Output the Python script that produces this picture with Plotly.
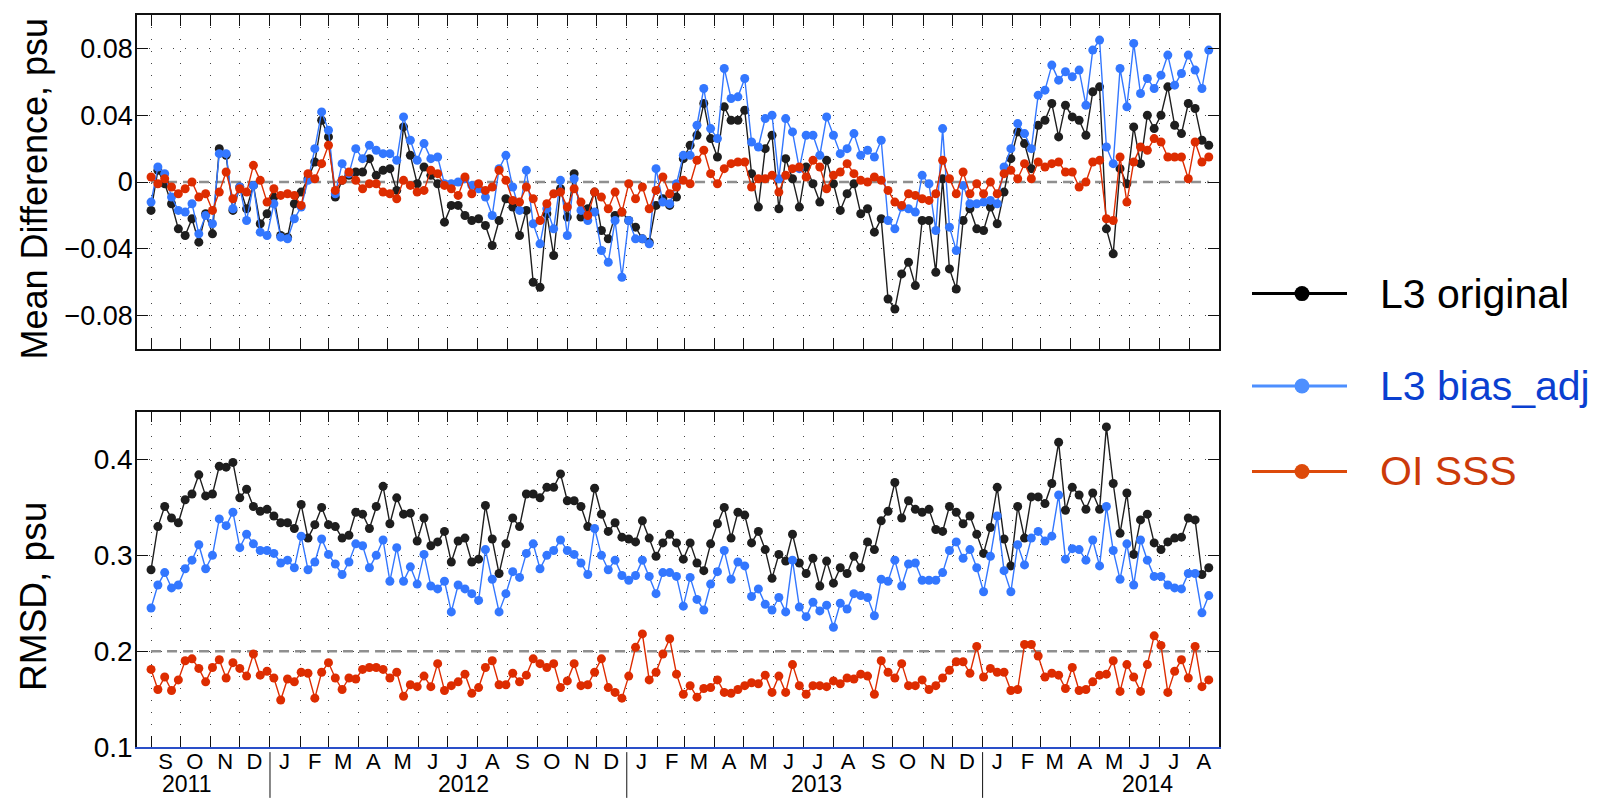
import pandas as pd
import plotly.graph_objects as go

# ---------------- data ----------------
N_WEEKS = 156
START_DATE = "2011-09-01"

md_l3_original = [
    -0.017, 0.007, -0.001, -0.013, -0.028, -0.032, -0.022, -0.036, -0.019, -0.031,
    0.020, 0.016, -0.017, -0.003, -0.016, -0.002, -0.025, -0.019, -0.009, -0.032,
    -0.033, -0.013, -0.006, 0.002, 0.012, 0.037, 0.027, -0.009, 0.001, 0.004,
    0.006, 0.006, 0.014, 0.004, 0.007, 0.008, -0.005,
    0.033, 0.016, -0.001, 0.009, 0.004, -0.001, -0.024, -0.014, -0.014, -0.020,
    -0.023, -0.022, -0.026, -0.038, -0.023, -0.010, -0.015, -0.032, -0.017, -0.060,
    -0.063, -0.019, -0.044, -0.004, -0.021, 0.005, -0.021, -0.016, -0.006, -0.029,
    -0.034, -0.020, -0.018, -0.023, -0.027, -0.034, -0.036, -0.014, -0.010,
    -0.014, -0.009, 0.014, 0.022, 0.028, 0.047, 0.026, 0.015, 0.045, 0.037,
    0.037, 0.043, 0.005, -0.015, 0.020, 0.028, -0.016, 0.014, 0.002, -0.015,
    0.009, -0.001, -0.012, 0.013, -0.001, -0.017, -0.007, -0.001, -0.019, -0.016,
    -0.030, -0.022, -0.070, -0.076, -0.055, -0.048, -0.062, -0.023, -0.023, -0.054,
    0.002, -0.052, -0.064,
    -0.023, -0.016, -0.028, -0.029, -0.015, -0.025, -0.006, 0.014, 0.030, 0.023,
    0.008, 0.034, 0.037, 0.047, 0.027, 0.046, 0.039, 0.037, 0.028, 0.054,
    0.057, -0.028, -0.043, 0.008, -0.001, 0.033, 0.011, 0.040, 0.032, 0.040,
    0.057, 0.034, 0.029, 0.047, 0.044, 0.025, 0.022,
]

md_l3_bias_adj = [
    -0.012, 0.009, 0.005, -0.009, -0.017, -0.018, -0.013, -0.031, -0.020, -0.025,
    0.017, 0.017, -0.016, -0.003, -0.023, -0.002, -0.030, -0.032, -0.013, -0.033,
    -0.034, -0.022, -0.015, 0.001, 0.020, 0.042, 0.031, -0.007, 0.011, 0.005,
    0.020, 0.014, 0.022, 0.019, 0.017, 0.017, 0.013,
    0.039, 0.025, 0.013, 0.023, 0.014, 0.015, -0.001, -0.001, 0.000, 0.002,
    -0.002, -0.004, -0.009, -0.020, 0.008, 0.016, -0.003, -0.017, 0.007, -0.025,
    -0.037, -0.016, -0.028, 0.001, -0.032, 0.002, -0.017, -0.023, -0.018, -0.041,
    -0.048, -0.023, -0.057, -0.023, -0.034, -0.034, -0.037, 0.008, -0.012,
    -0.013, -0.001, 0.016, 0.016, 0.034, 0.056, 0.032, 0.026, 0.068, 0.050,
    0.051, 0.062, 0.024, 0.021, 0.038, 0.040, 0.002, 0.038, 0.030, 0.008,
    0.028, 0.028, 0.016, 0.039, 0.028, 0.017, 0.020, 0.029, 0.016, 0.019,
    0.015, 0.025, -0.023, -0.028, -0.015, -0.016, -0.018, 0.004, -0.001, -0.029,
    0.032, -0.027, -0.041,
    -0.002, -0.013, -0.013, -0.012, -0.011, -0.013, 0.009, 0.020, 0.035, 0.029,
    0.020, 0.052, 0.055, 0.070, 0.061, 0.066, 0.063, 0.067, 0.046, 0.079,
    0.085, 0.021, 0.011, 0.068, 0.045, 0.083, 0.053, 0.062, 0.056, 0.064,
    0.076, 0.058, 0.065, 0.076, 0.067, 0.056, 0.079,
]

md_oi_sss = [
    0.003, -0.001, 0.002, -0.003, -0.007, -0.004, 0.000, -0.009, -0.007, -0.017,
    -0.006, 0.006, -0.010, -0.004, -0.006, 0.010, 0.001, -0.012, -0.004, -0.008,
    -0.007, -0.008, -0.014, 0.005, 0.002, 0.011, 0.022, -0.005, 0.001, 0.006,
    0.001, -0.004, -0.001, -0.001, -0.006, -0.007, -0.010,
    0.001, -0.002, -0.006, -0.005, 0.007, 0.005, -0.002, -0.004, -0.008, 0.003,
    -0.007, -0.001, -0.005, -0.003, 0.007, 0.001, -0.011, -0.012, -0.003, -0.010,
    -0.023, -0.013, -0.007, -0.006, -0.015, -0.004, -0.012, -0.020, -0.006, -0.009,
    -0.016, -0.006, -0.018, -0.001, -0.010, -0.003, -0.016, -0.005, 0.003,
    -0.007, -0.003, 0.001, -0.001, 0.013, 0.019, 0.005, -0.001, 0.008, 0.011,
    0.012, 0.012, -0.003, 0.002, 0.002, 0.004, -0.006, 0.004, 0.008, 0.009,
    0.003, 0.013, 0.009, -0.004, 0.004, 0.006, 0.011, 0.005, 0.001, 0.000,
    0.003, 0.001, -0.005, -0.012, -0.014, -0.007, -0.008, -0.010, -0.011, -0.007,
    0.013, 0.002, -0.007,
    0.006, -0.007, -0.001, -0.007, 0.000, -0.007, 0.005, 0.007, 0.002, 0.011,
    0.002, 0.012, 0.009, 0.011, 0.012, 0.006, 0.006, -0.003, 0.000, 0.012,
    0.013, -0.022, -0.023, 0.015, -0.012, 0.012, 0.021, 0.019, 0.026, 0.024,
    0.015, 0.015, 0.015, 0.002, 0.024, 0.012, 0.015,
]

rmsd_l3_original = [
    0.285, 0.330, 0.351, 0.339, 0.334, 0.358, 0.364, 0.384, 0.362, 0.364,
    0.393, 0.392, 0.397, 0.360, 0.369, 0.351, 0.346, 0.348, 0.341, 0.334,
    0.334, 0.328, 0.353, 0.318, 0.332, 0.350, 0.332, 0.330, 0.318, 0.321,
    0.345, 0.343, 0.328, 0.351, 0.372, 0.333, 0.360, 0.343, 0.344, 0.315,
    0.339, 0.310, 0.314, 0.325, 0.293, 0.315, 0.318, 0.293, 0.296, 0.352,
    0.317, 0.281, 0.312, 0.339, 0.330, 0.364, 0.364, 0.360, 0.371, 0.371,
    0.385, 0.357, 0.357, 0.351, 0.330, 0.370, 0.343, 0.325, 0.334, 0.319,
    0.317, 0.314, 0.336, 0.318, 0.299, 0.313, 0.322, 0.313, 0.296, 0.313,
    0.292, 0.284, 0.312, 0.333, 0.350, 0.318, 0.345, 0.342, 0.313, 0.325,
    0.306, 0.276, 0.301, 0.294, 0.322, 0.292, 0.281, 0.297, 0.268, 0.294,
    0.271, 0.287, 0.281, 0.299, 0.287, 0.314, 0.306, 0.336, 0.346, 0.376,
    0.339, 0.357, 0.348, 0.345, 0.348, 0.327, 0.325, 0.351, 0.345,
    0.333, 0.341, 0.322, 0.302, 0.329, 0.371, 0.317, 0.289, 0.351, 0.318,
    0.361, 0.361, 0.354, 0.375, 0.418, 0.347, 0.371, 0.363, 0.348, 0.365,
    0.348, 0.434, 0.375, 0.323, 0.365, 0.301, 0.337, 0.343, 0.313, 0.306,
    0.314, 0.318, 0.319, 0.339, 0.337, 0.280, 0.287,
]

rmsd_l3_bias_adj = [
    0.245, 0.269, 0.282, 0.266, 0.269, 0.286, 0.295, 0.311, 0.286, 0.300,
    0.338, 0.331, 0.345, 0.308, 0.322, 0.312, 0.305, 0.305, 0.302, 0.292,
    0.295, 0.287, 0.320, 0.285, 0.293, 0.317, 0.301, 0.291, 0.280, 0.293,
    0.312, 0.310, 0.287, 0.300, 0.316, 0.273, 0.308, 0.273, 0.288, 0.270,
    0.301, 0.268, 0.265, 0.273, 0.241, 0.269, 0.265, 0.260, 0.253, 0.306,
    0.275, 0.241, 0.260, 0.283, 0.277, 0.302, 0.312, 0.286, 0.300, 0.305,
    0.316, 0.305, 0.301, 0.292, 0.280, 0.328, 0.300, 0.285, 0.295, 0.279,
    0.274, 0.279, 0.295, 0.278, 0.260, 0.282, 0.282, 0.278, 0.247, 0.277,
    0.254, 0.243, 0.270, 0.283, 0.305, 0.275, 0.293, 0.289, 0.257, 0.265,
    0.249, 0.243, 0.256, 0.241, 0.295, 0.246, 0.236, 0.251, 0.242, 0.248,
    0.225, 0.250, 0.244, 0.260, 0.258, 0.256, 0.237, 0.275, 0.273, 0.295,
    0.268, 0.291, 0.292, 0.274, 0.274, 0.274, 0.282, 0.305, 0.314,
    0.297, 0.306, 0.287, 0.262, 0.299, 0.341, 0.284, 0.262, 0.311, 0.290,
    0.318, 0.325, 0.315, 0.320, 0.363, 0.296, 0.307, 0.306, 0.295, 0.316,
    0.289, 0.351, 0.305, 0.275, 0.312, 0.269, 0.316, 0.295, 0.278, 0.278,
    0.269, 0.266, 0.265, 0.281, 0.281, 0.240, 0.258,
]

rmsd_oi_sss = [
    0.181, 0.160, 0.173, 0.159, 0.170, 0.190, 0.192, 0.182, 0.168, 0.183,
    0.191, 0.172, 0.188, 0.182, 0.174, 0.197, 0.175, 0.179, 0.172, 0.149,
    0.171, 0.168, 0.178, 0.177, 0.151, 0.178, 0.188, 0.172, 0.160, 0.172,
    0.171, 0.181, 0.183, 0.183, 0.181, 0.172, 0.178, 0.153, 0.165, 0.163,
    0.174, 0.163, 0.187, 0.159, 0.164, 0.168, 0.176, 0.156, 0.162, 0.183,
    0.190, 0.165, 0.165, 0.177, 0.168, 0.175, 0.192, 0.187, 0.183, 0.187,
    0.162, 0.169, 0.187, 0.164, 0.165, 0.178, 0.192, 0.162, 0.157, 0.151,
    0.174, 0.204, 0.218, 0.170, 0.178, 0.197, 0.213, 0.176, 0.155, 0.164,
    0.152, 0.161, 0.162, 0.170, 0.157, 0.156, 0.160, 0.164, 0.167, 0.166,
    0.175, 0.157, 0.174, 0.157, 0.186, 0.164, 0.155, 0.164, 0.164, 0.163,
    0.169, 0.166, 0.172, 0.171, 0.176, 0.174, 0.155, 0.190, 0.178, 0.172,
    0.187, 0.164, 0.164, 0.170, 0.160, 0.164, 0.172, 0.180, 0.189,
    0.189, 0.177, 0.205, 0.173, 0.182, 0.178, 0.178, 0.159, 0.160, 0.207,
    0.207, 0.195, 0.173, 0.177, 0.175, 0.161, 0.183, 0.159, 0.160, 0.168,
    0.175, 0.176, 0.190, 0.158, 0.186, 0.173, 0.158, 0.186, 0.216, 0.206,
    0.157, 0.179, 0.191, 0.172, 0.205, 0.163, 0.170,
]

series_names = ["L3 original", "L3 bias_adj", "OI SSS"]
month_letters = ["S", "O", "N", "D", "J", "F", "M", "A", "M", "J", "J", "A",
                 "S", "O", "N", "D", "J", "F", "M", "A", "M", "J", "J", "A",
                 "S", "O", "N", "D", "J", "F", "M", "A", "M", "J", "J", "A"]
year_labels = ["2011", "2012", "2013", "2014"]
md_ticks = [-0.08, -0.04, 0, 0.04, 0.08]
md_ticktext = ["\u22120.08", "\u22120.04", "0", "0.04", "0.08"]
rmsd_ticks = [0.1, 0.2, 0.3, 0.4]
md_reference = 0.0
rmsd_reference = 0.2

# ---------------- styling / layout constants ----------------
FONT = "Liberation Sans, Arial, Helvetica, sans-serif"
LINE_COLORS = ["#1e1e1e", "#3377ff", "#dd2c00"]
LEGEND_LINE_COLORS = ["#000000", "#4d8fff", "#dd4a0a"]
LEGEND_TEXT_COLORS = ["#000000", "#0a3fd0", "#cc3a0a"]
X_RANGE = ["2011-08-17 14:00", "2014-08-31 12:00"]
YEAR_LABEL_DATES = ["2011-10-07", "2012-07-17", "2013-07-15", "2014-06-19"]
YEAR_BREAKS = ["2012-01-01", "2013-01-01", "2014-01-01"]
GRID_DASH = "1px,11px"
GRID_COLOR = "#444444"

dates = pd.date_range(START_DATE, periods=N_WEEKS, freq="7D")
month_starts = pd.date_range("2011-09-01", "2014-08-01", freq="MS")
month_mids = month_starts + pd.Timedelta(days=15)

fig = go.Figure()

md_series = [md_l3_original, md_l3_bias_adj, md_oi_sss]
rmsd_series = [rmsd_l3_original, rmsd_l3_bias_adj, rmsd_oi_sss]

for name, vals, col in zip(series_names, md_series, LINE_COLORS):
    fig.add_trace(go.Scatter(x=dates, y=vals, mode="lines+markers", name=name,
                             line=dict(color=col, width=1.4),
                             marker=dict(color=col, size=9),
                             xaxis="x", yaxis="y", showlegend=False))
for name, vals, col in zip(series_names, rmsd_series, LINE_COLORS):
    fig.add_trace(go.Scatter(x=dates, y=vals, mode="lines+markers", name=name,
                             line=dict(color=col, width=1.4),
                             marker=dict(color=col, size=9),
                             xaxis="x2", yaxis="y2", showlegend=False))
# carrier trace for the month-letter axis
fig.add_trace(go.Scatter(x=month_mids, y=[None] * len(month_mids), mode="markers",
                         xaxis="x3", yaxis="y2", showlegend=False, hoverinfo="skip"))

time_axis = dict(
    type="date", range=X_RANGE,
    tickmode="linear", tick0="2011-09-01", dtick="M1",
    ticks="inside", ticklen=11, tickwidth=1.2, tickcolor="#111111",
    showticklabels=False, mirror="ticks", showline=True,
    linecolor="#111111", linewidth=1.5,
    showgrid=True, gridcolor=GRID_COLOR, griddash=GRID_DASH, gridwidth=1,
    zeroline=False,
)

value_axis = dict(
    ticks="inside", ticklen=11, tickwidth=1.2, tickcolor="#111111",
    mirror="ticks", showline=True, linecolor="#111111", linewidth=1.5,
    showgrid=True, gridcolor=GRID_COLOR, griddash=GRID_DASH,
    zeroline=False, ticklabelstandoff=-3,
)

# the page body adds an 8px margin, so the figure is 1594x790 and all
# positions are measured 8px up/left of the screenshot
fig.update_layout(
    width=1594, height=790,
    margin=dict(l=129, r=383, t=5, b=51),
    paper_bgcolor="white", plot_bgcolor="white",
    font=dict(family=FONT, color="#000000"),
    xaxis=dict(time_axis, domain=[0, 1], anchor="y"),
    xaxis2=dict(time_axis, domain=[0, 1], anchor="y2"),
    xaxis3=dict(type="date", range=X_RANGE, overlaying="x2", anchor="y2", side="bottom",
                tickmode="array", tickvals=month_mids, ticktext=month_letters,
                ticks="", showgrid=False, zeroline=False, ticklabelstandoff=-6,
                showline=True, linecolor="#2a4fc8", linewidth=1.5,
                tickfont=dict(size=22, family=FONT, color="#000000")),
    yaxis=dict(value_axis, domain=[0.5436, 1.0], range=[-0.1, 0.1], anchor="x",
               tickmode="array", tickvals=md_ticks, ticktext=md_ticktext,
               tickfont=dict(size=27, family=FONT, color="#000000")),
    yaxis2=dict(value_axis, domain=[0.0, 0.4582], range=[0.1, 0.45], anchor="x2",
                tickmode="array", tickvals=rmsd_ticks,
                tickfont=dict(size=28, family=FONT, color="#000000")),
    showlegend=False,
)

shapes = []
# dashed reference lines
for xr, yr, yv in [("x", "y", md_reference), ("x2", "y2", rmsd_reference)]:
    shapes.append(dict(type="line", xref=xr, yref=yr, x0=dates[0], x1=dates[-1],
                       y0=yv, y1=yv, layer="between",
                       line=dict(color="#8f8f8f", width=2.5, dash="10px,6px")))
# year separators below the bottom axis
for d in YEAR_BREAKS:
    shapes.append(dict(type="line", xref="x2", yref="paper", x0=d, x1=d,
                       y0=-0.007, y1=-0.0695, line=dict(color="#111111", width=1)))

annotations = []
for lab, d in zip(year_labels, YEAR_LABEL_DATES):
    annotations.append(dict(text=lab, x=d, xref="x2", y=-0.0511, yref="paper",
                            showarrow=False, xanchor="center", yanchor="middle",
                            font=dict(size=23, family=FONT, color="#000000")))

annotations.append(dict(text="Mean Difference, psu", x=-0.0952, xref="paper",
                        y=0.763, yref="paper", textangle=-90, showarrow=False,
                        xanchor="center", yanchor="middle",
                        font=dict(size=36, family=FONT, color="#000000")))
annotations.append(dict(text="RMSD, psu", x=-0.0952, xref="paper",
                        y=0.2064, yref="paper", textangle=-90, showarrow=False,
                        xanchor="center", yanchor="middle",
                        font=dict(size=37, family=FONT, color="#000000")))

# manual legend
LEG_Y = [0.6194, 0.4932, 0.3764]
LEG_X0, LEG_X1, LEG_XM, LEG_XT = 1.0305, 1.1183, 1.0767, 1.147
for name, y, lc, tc in zip(series_names, LEG_Y, LEGEND_LINE_COLORS, LEGEND_TEXT_COLORS):
    shapes.append(dict(type="line", xref="paper", yref="paper", x0=LEG_X0, x1=LEG_X1,
                       y0=y, y1=y, line=dict(color=lc, width=3)))
    shapes.append(dict(type="circle", xref="paper", yref="paper",
                       xsizemode="pixel", ysizemode="pixel",
                       xanchor=LEG_XM, yanchor=y, x0=-7.5, x1=7.5, y0=-7.5, y1=7.5,
                       fillcolor=lc, line=dict(color=lc, width=0)))
    annotations.append(dict(text=name, x=LEG_XT, xref="paper", y=y, yref="paper",
                            showarrow=False, xanchor="left", yanchor="middle",
                            font=dict(size=41, family=FONT, color=tc)))

fig.update_layout(shapes=shapes, annotations=annotations)

fig.write_html("out.html")
